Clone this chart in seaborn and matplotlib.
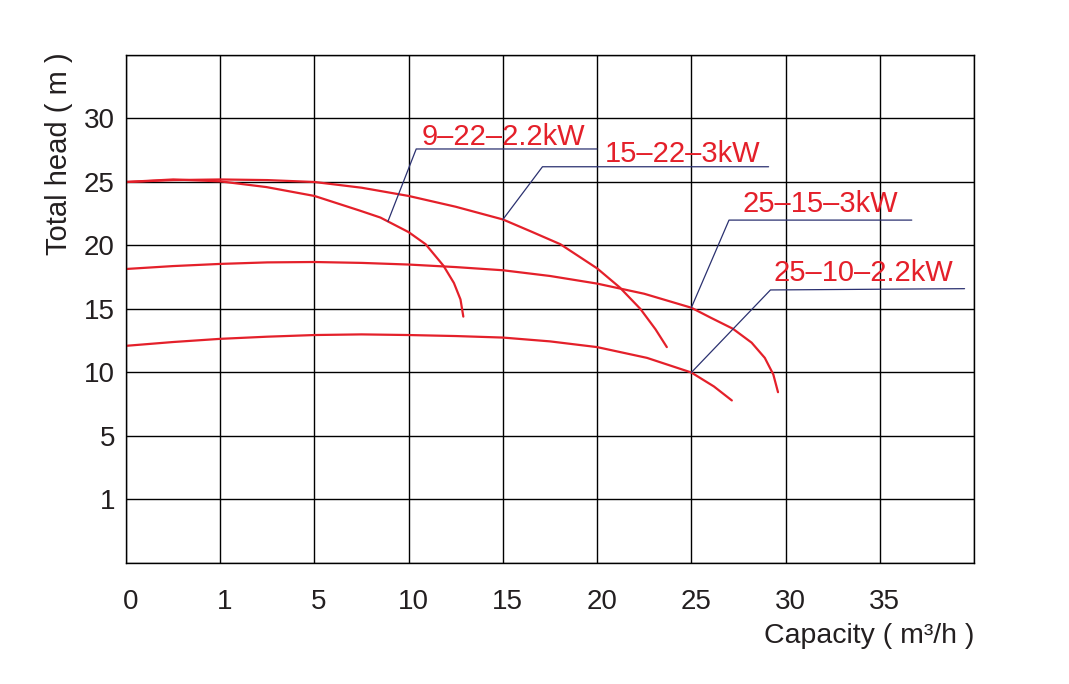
import matplotlib
matplotlib.use('Agg')
import matplotlib.pyplot as plt
import matplotlib.transforms as mtransforms
import pandas as pd
import seaborn as sns

# curve points (capacity, head)
q_9_22 = [-5, -2.5, 0, 2.45, 5, 7.4, 8.5, 10.0, 10.9, 11.85, 12.4, 12.75, 12.9]
h_9_22 = [25.0, 25.2, 25.05, 24.6, 23.9, 22.75, 22.2, 21.05, 20.1, 18.4, 17.05, 15.75, 14.4]

q_15_22 = [-5, -2.5, 0, 2.5, 5, 7.5, 10, 12.5, 15, 16.5, 18.05, 20, 21.2, 22.3, 23.1, 23.7]
h_15_22 = [25.0, 25.15, 25.2, 25.15, 25.0, 24.55, 23.9, 23.05, 22.05, 21.1, 20.1,
           18.2, 16.7, 15.0, 13.4, 12.0]

q_25_15 = [-5, -2.5, 0, 2.5, 5, 7.5, 10, 12.5, 15, 17.5, 20, 22.5, 25, 26.05,
           27.2, 28.2, 28.9, 29.35, 29.6]
h_25_15 = [18.15, 18.38, 18.55, 18.67, 18.7, 18.63, 18.5, 18.3, 18.05, 17.6, 17.0,
           16.2, 15.1, 14.3, 13.45, 12.35, 11.15, 9.85, 8.45]

q_25_10 = [-5, -2.5, 0, 2.5, 5, 7.5, 10, 12.5, 15, 17.5, 20, 22.65, 25, 26.2, 27.15]
h_25_10 = [12.1, 12.4, 12.65, 12.82, 12.95, 13.0, 12.95, 12.87, 12.75, 12.45, 12.0,
           11.15, 10.0, 8.9, 7.8]

models = ['9-22-2.2kW', '15-22-3kW', '25-15-3kW', '25-10-2.2kW']

# leader lines: curve point -> elbow -> end of underline
leader_x = [[8.9, 10.4, 20.0], [15.0, 17.1, 29.1], [25.0, 27.0, 36.7], [25.0, 29.2, 39.5]]
leader_y = [[21.9, 27.6, 27.6], [22.05, 26.2, 26.2], [15.1, 22.0, 22.0], [10.0, 16.5, 16.6]]
label_pos = [(10.7, 27.95), (20.4, 26.6), (27.7, 22.6), (29.35, 17.2)]

x_ticks = [-5, 0, 5, 10, 15, 20, 25, 30, 35]
x_labels = ['0', '1', '5', '10', '15', '20', '25', '30', '35']
y_ticks = [0, 5, 10, 15, 20, 25, 30]
y_labels = ['1', '5', '10', '15', '20', '25', '30']

red = '#e4202a'
navy = '#2b3170'
ink = '#231f20'

frames = []
for name, q, h in zip(models, [q_9_22, q_15_22, q_25_15, q_25_10],
                      [h_9_22, h_15_22, h_25_15, h_25_10]):
    frames.append(pd.DataFrame({'capacity': q, 'head': h, 'model': name}))
df = pd.concat(frames, ignore_index=True)

sns.set_style('white')
plt.rcParams['font.family'] = ['Liberation Sans', 'DejaVu Sans']

fig = plt.figure(figsize=(10.69, 6.84), dpi=100)
ax = fig.add_axes([0.1179, 0.1769, 0.7932, 0.7427])

sns.lineplot(data=df, x='capacity', y='head', hue='model', units='model',
             estimator=None, sort=False, palette=[red] * 4, linewidth=1.6,
             legend=False, ax=ax)
for line in ax.lines:
    line.set_solid_joinstyle('round')

for lx, ly in zip(leader_x, leader_y):
    ax.plot(lx, ly, color=navy, linewidth=0.9, zorder=3)

for name, (tx, ty) in zip(models, label_pos):
    ax.text(tx, ty, name.replace('-', '\u2013'), color=red, fontsize=21,
            ha='left', va='baseline', zorder=4)

ax.set_xlim(-5, 40)
ax.set_ylim(-5, 35)
ax.set_xticks(x_ticks)
ax.set_xticklabels(x_labels)
ax.set_yticks(y_ticks)
ax.set_yticklabels(y_labels)
ax.set_xticks(range(0, 41, 5), minor=True)
ax.set_yticks(range(-5, 36, 5), minor=True)
ax.grid(True, which='both', color='black', linewidth=1.0)
ax.set_axisbelow(True)
ax.tick_params(axis='both', which='both', length=0, labelsize=20, colors=ink)
ax.tick_params(axis='x', pad=19)
ax.tick_params(axis='y', pad=8)
shift = mtransforms.ScaledTranslation(0.045, 0, fig.dpi_scale_trans)
for lab in ax.get_xticklabels():
    lab.set_transform(lab.get_transform() + shift)
for s in ax.spines.values():
    s.set_color('black')
    s.set_linewidth(1.0)

ax.set_xlabel('Capacity ( m\u00b3/h )', fontsize=20.5, loc='right', color=ink)
ax.set_ylabel('Total head ( m )', fontsize=21, loc='top', color=ink)
ax.xaxis.set_label_coords(1.0, -0.118)
ax.yaxis.set_label_coords(-0.063, 1.006)

fig.savefig('out.png', dpi=100)
